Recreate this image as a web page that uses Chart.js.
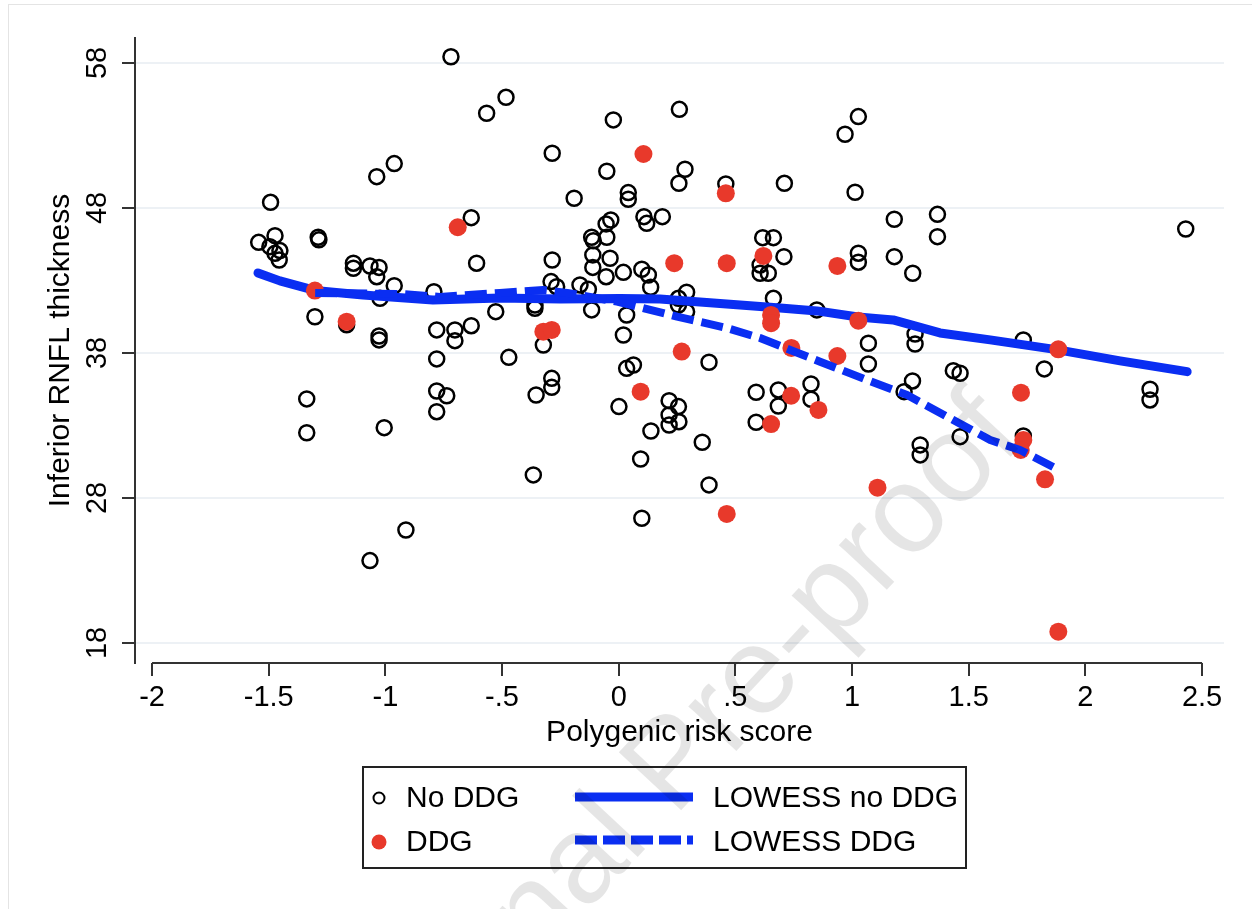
<!DOCTYPE html>
<html>
<head>
<meta charset="utf-8">
<title>Inferior RNFL thickness vs polygenic risk score</title>
<script src="https://cdn.jsdelivr.net/npm/chart.js@4.4.1/dist/chart.umd.min.js"></script>
<style>
    html, body { margin: 0; padding: 0; background: #fff; }
    #wrap { position: relative; width: 1252px; height: 909px; }
</style>
</head>
<body>
<div id="wrap"><canvas id="rnfl-chart" width="1252" height="909"></canvas></div>
<script>
    // Data
    var xTicks = [-2, -1.5, -1, -0.5, 0, 0.5, 1, 1.5, 2, 2.5];
    var xTickLabels = ["-2", "-1.5", "-1", "-.5", "0", ".5", "1", "1.5", "2", "2.5"];
    var yTicks = [18, 28, 38, 48, 58];

    // No DDG (hollow circles)
    var noDdgX = [-0.719, -0.483, -0.566, -0.962, -1.037, -1.492, -0.632, -1.543, -1.473, -1.495,
        -1.452, -1.473, -1.455, -1.288, -1.285, -1.137, -1.137, -1.066, -1.027, -1.037,
        -0.609, -0.962, -1.023, -0.792, -0.527, -1.302, -1.166, -1.027, -1.027, -0.780,
        -0.702, -0.702, -0.632, -0.023, 0.260, -0.285, -0.051, 0.284, 0.258, 0.459,
        -0.191, 0.041, 0.041, 0.108, 0.120, 0.187, -0.034, -0.054, -0.051, -0.116,
        -0.109, -0.285, -0.111, -0.037, -0.111, -0.054, 0.020, 0.099, 0.127, 0.137,
        -0.290, -0.266, -0.166, -0.130, 0.291, 0.256, 0.291, 0.256, -0.359, -0.359,
        -0.116, 0.034, 0.020, -0.323, 1.027, 0.970, 0.710, 1.013, 1.181, 1.366,
        1.366, 0.617, 0.663, 0.708, 0.606, 0.606, 0.641, 1.027, 1.027, 1.181,
        1.260, 0.663, 0.849, 1.270, 1.270, 1.070, -0.471, -0.287, -0.287, -0.354,
        -0.366, 0.034, 0.063, 0.387, 0.001, 0.216, 0.256, 0.216, 0.216, 0.258,
        0.138, 0.358, 0.094, 0.387, 0.099, 1.070, 1.434, 1.463, 0.589, 0.684,
        0.684, 0.824, 0.824, 0.589, 1.259, 1.223, 1.463, 1.292, 1.292, 1.734,
        1.824, 2.277, 2.277, 1.734, 2.430, -1.337, -1.337, -1.005, -0.780, -0.780,
        -0.737, -0.780, -0.912, -1.066];
    var noDdgY = [58.43, 55.63, 54.53, 51.06, 50.16, 48.39, 47.33, 45.63, 46.09, 45.33,
        45.06, 44.87, 44.41, 45.98, 45.80, 44.19, 43.84, 44.00, 43.90, 43.26,
        44.19, 42.64, 41.77, 42.23, 40.85, 40.50, 39.95, 39.17, 38.90, 39.59,
        39.59, 38.85, 39.88, 54.07, 54.80, 51.77, 50.53, 50.67, 49.70, 49.66,
        48.67, 49.06, 48.60, 47.40, 46.94, 47.40, 47.17, 46.90, 45.98, 45.98,
        45.74, 44.41, 44.76, 44.53, 43.90, 43.26, 43.56, 43.77, 43.38, 42.53,
        42.92, 42.57, 42.69, 42.39, 42.19, 41.77, 40.85, 41.31, 41.31, 41.08,
        40.97, 40.62, 39.24, 38.55, 54.30, 53.08, 49.70, 49.08, 47.22, 47.56,
        46.02, 45.95, 45.95, 44.64, 44.07, 43.50, 43.50, 44.88, 44.26, 44.64,
        43.50, 41.77, 40.97, 39.31, 38.62, 38.67, 37.70, 36.25, 35.63, 35.10,
        29.59, 36.94, 37.17, 37.36, 34.30, 34.71, 34.30, 33.72, 33.03, 33.26,
        32.62, 31.84, 30.69, 28.90, 26.60, 37.24, 36.78, 36.60, 35.29, 35.45,
        34.34, 35.86, 34.81, 33.22, 36.07, 35.33, 32.23, 31.66, 30.97, 38.90,
        36.90, 35.50, 34.76, 32.28, 46.55, 34.83, 32.50, 32.85, 37.59, 35.38,
        35.05, 33.95, 25.79, 23.68];

    // DDG (red dots)
    var ddgX = [-0.690, -1.302, -1.166, 0.106, 0.459, 0.238, 0.463, -0.323, -0.287, 0.270,
        0.620, 0.937, 0.653, 0.653, 1.027, 0.740, 0.094, 0.463, 0.937, 0.739,
        0.856, 0.653, 1.109, 1.884, 1.724, 1.734, 1.723, 1.827, 1.884];
    var ddgY = [46.67, 42.30, 40.16, 51.72, 49.01, 44.19, 44.19, 39.47, 39.59, 38.10,
        44.69, 44.00, 40.62, 40.05, 40.23, 38.35, 35.33, 26.90, 37.79, 35.05,
        34.07, 33.10, 28.71, 38.25, 35.26, 32.00, 31.31, 29.29, 18.78];

    // LOWESS curves
    var lowessNoX = [-1.546, -1.452, -1.302, -1.096, -0.796, -0.509, -0.251, 0.006, 0.177, 0.348,
        0.520, 0.692, 0.850, 1.026, 1.176, 1.377, 1.592, 1.883, 2.149, 2.436];
    var lowessNoY = [43.52, 42.97, 42.31, 42.00, 41.66, 41.79, 41.72, 41.76, 41.72, 41.52,
        41.31, 41.10, 40.90, 40.48, 40.28, 39.38, 38.90, 38.21, 37.45, 36.71];
    var lowessDdgX = [-1.301, -0.937, -0.766, -0.509, -0.324, -0.221, -0.007, 0.104, 0.250, 0.464,
        0.606, 0.735, 0.863, 1.064, 1.236, 1.407, 1.592, 1.720, 1.862];
    var lowessDdgY = [42.14, 42.07, 41.86, 42.14, 42.34, 42.14, 41.54, 41.10, 40.50, 39.72,
        39.03, 38.21, 37.40, 36.14, 35.10, 33.61, 32.00, 31.31, 30.14];

    var toPoints = function (xs, ys) {
        return xs.map(function (x, i) { return {x: x, y: ys[i]}; });
    };

    var BLUE = "#0a2ef2";
    var RED = "#e8392b";
    var FONT = "'Liberation Sans', Arial, Helvetica, sans-serif";


    // Stata-style pieces: x axis line, rotated y labels, legend box, watermark
    var stataDecor = {
        id: "stataDecor",
        beforeDraw: function (chart) {
            var ctx = chart.ctx;
            ctx.save();
            ctx.strokeStyle = "#e4e4e4";
            ctx.lineWidth = 1;
            ctx.strokeRect(8.5, 4.5, 1400, 1000);
            ctx.restore();
        },
        afterDraw: function (chart) {
            var ctx = chart.ctx;
            var xs = chart.scales.x;
            var ys = chart.scales.y;
            var area = chart.chartArea;

            ctx.save();
            // x axis line only spans the tick range
            ctx.strokeStyle = "#333";
            ctx.lineWidth = 2;
            ctx.beginPath();
            ctx.moveTo(xs.getPixelForValue(xTicks[0]), area.bottom);
            ctx.lineTo(xs.getPixelForValue(xTicks[xTicks.length - 1]), area.bottom);
            ctx.stroke();

            // y tick labels, rotated like Stata
            ctx.fillStyle = "#000";
            ctx.font = "29px " + FONT;
            ctx.textAlign = "center";
            ctx.textBaseline = "alphabetic";
            yTicks.forEach(function (v) {
                ctx.save();
                ctx.translate(106, ys.getPixelForValue(v));
                ctx.rotate(-Math.PI / 2);
                ctx.fillText(String(v), 0, 0);
                ctx.restore();
            });

            // legend
            ctx.strokeStyle = "#222";
            ctx.lineWidth = 2;
            ctx.strokeRect(363, 767, 603, 101);
            ctx.font = "30px " + FONT;
            ctx.textAlign = "left";
            ctx.textBaseline = "middle";
            ctx.fillStyle = "#000";

            ctx.beginPath();
            ctx.arc(379, 798, 5.5, 0, Math.PI * 2);
            ctx.lineWidth = 2;
            ctx.strokeStyle = "#000";
            ctx.stroke();
            ctx.fillText(chart.data.datasets[0].label, 406, 799);

            ctx.beginPath();
            ctx.arc(379, 842, 7.5, 0, Math.PI * 2);
            ctx.fillStyle = RED;
            ctx.fill();
            ctx.fillStyle = "#000";
            ctx.fillText(chart.data.datasets[2].label, 406, 843);

            ctx.strokeStyle = BLUE;
            ctx.lineWidth = 9;
            ctx.beginPath();
            ctx.moveTo(575, 797);
            ctx.lineTo(693, 797);
            ctx.stroke();
            ctx.fillText(chart.data.datasets[1].label, 713, 799);

            ctx.setLineDash([22, 6]);
            ctx.beginPath();
            ctx.moveTo(575, 840);
            ctx.lineTo(693, 840);
            ctx.stroke();
            ctx.setLineDash([]);
            ctx.fillText(chart.data.datasets[3].label, 713, 843);

            // journal watermark
            ctx.translate(700, 790);
            ctx.rotate(-47 * Math.PI / 180);
            ctx.font = "124px " + FONT;
            ctx.textAlign = "center";
            ctx.textBaseline = "alphabetic";
            ctx.fillStyle = "rgba(0, 0, 0, 0.1)";
            ctx.fillText("Journal Pre-proof", 0, 0);
            ctx.restore();
        }
    };


    // Scatter + LOWESS chart
    var ctx1 = document.getElementById("rnfl-chart").getContext("2d");
    var myChart1 = new Chart(ctx1, {
        type: "scatter",
        data: {
            datasets: [{
                    label: "No DDG",
                    data: toPoints(noDdgX, noDdgY),
                    pointRadius: 7.5,
                    pointBorderWidth: 2.5,
                    pointBorderColor: "#000",
                    pointBackgroundColor: "rgba(0,0,0,0)",
                    order: 4
                },
                {
                    label: "LOWESS no DDG",
                    data: toPoints(lowessNoX, lowessNoY),
                    showLine: true,
                    pointRadius: 0,
                    borderColor: BLUE,
                    borderWidth: 9,
                    borderCapStyle: "round",
                    borderJoinStyle: "round",
                    order: 3
                },
                {
                    label: "DDG",
                    data: toPoints(ddgX, ddgY),
                    pointRadius: 9,
                    pointBorderWidth: 0,
                    pointBackgroundColor: RED,
                    order: 2
                },
                {
                    label: "LOWESS DDG",
                    data: toPoints(lowessDdgX, lowessDdgY),
                    showLine: true,
                    pointRadius: 0,
                    borderColor: BLUE,
                    borderWidth: 8,
                    borderDash: [22, 8],
                    borderJoinStyle: "round",
                    order: 1
                }
            ]
        },
        options: {
            responsive: false,
            animation: false,
            layout: {
                padding: {left: 0, right: 28, top: 38, bottom: 0}
            },
            plugins: {
                legend: {display: false},
                tooltip: {enabled: false}
            },
            scales: {
                x: {
                    type: "linear",
                    min: -2.073,
                    max: 2.594,
                    afterBuildTicks: function (scale) {
                        scale.ticks = xTicks.map(function (v) { return {value: v}; });
                    },
                    afterFit: function (scale) {
                        scale.height = 246;
                    },
                    border: {display: false},
                    grid: {
                        drawOnChartArea: false,
                        drawTicks: true,
                        tickLength: 13,
                        tickColor: "#333",
                        lineWidth: 2
                    },
                    ticks: {
                        color: "#000",
                        padding: 5,
                        maxRotation: 0,
                        font: {family: FONT, size: 29},
                        callback: function (value, index) {
                            return xTickLabels[index];
                        }
                    },
                    title: {
                        display: true,
                        text: "Polygenic risk score",
                        color: "#000",
                        font: {family: FONT, size: 30},
                        padding: {top: 0, bottom: 158}
                    }
                },
                y: {
                    type: "linear",
                    min: 16.62,
                    max: 59.72,
                    afterBuildTicks: function (scale) {
                        scale.ticks = yTicks.map(function (v) { return {value: v}; });
                    },
                    afterFit: function (scale) {
                        scale.width = 135;
                    },
                    border: {display: true, color: "#333", width: 2},
                    grid: {
                        color: "#edf1f5",
                        lineWidth: 2,
                        drawTicks: true,
                        tickLength: 13,
                        tickColor: "#333"
                    },
                    ticks: {display: false},
                    title: {
                        display: true,
                        text: "Inferior RNFL thickness",
                        color: "#000",
                        font: {family: FONT, size: 30},
                        padding: {top: 43, bottom: 0}
                    }
                }
            }
        },
        plugins: [stataDecor]
    });
</script>
</body>
</html>
